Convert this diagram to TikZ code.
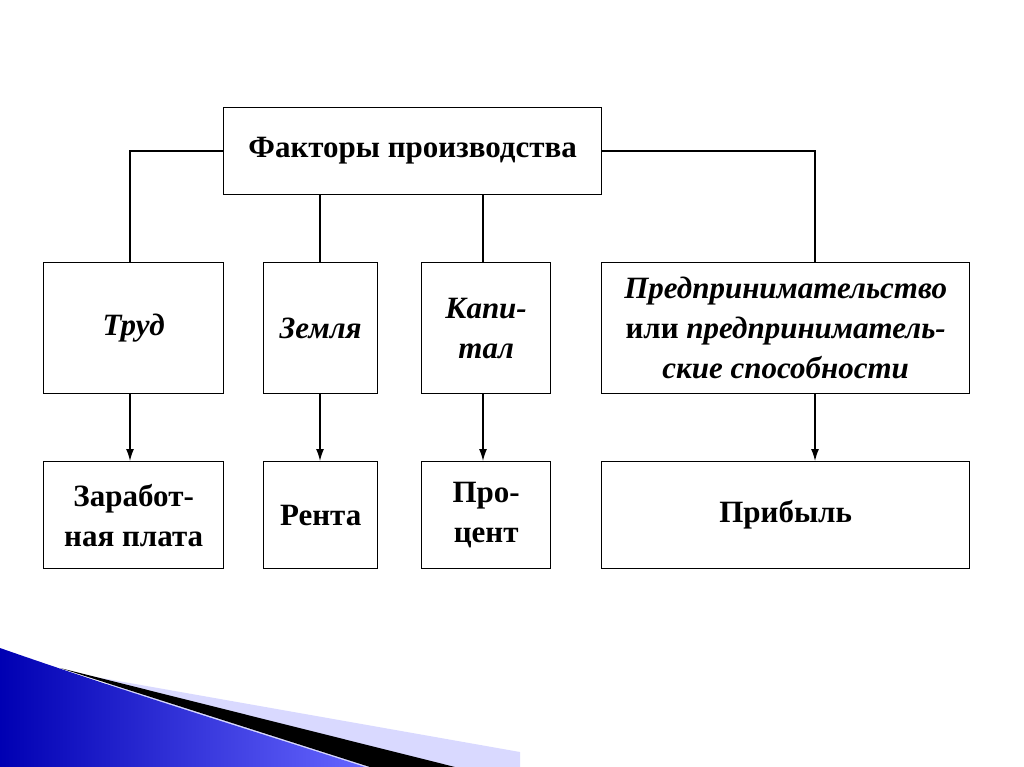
\documentclass[tikz,border=0pt]{standalone}
\usepackage{fontspec}
\setmainfont{Liberation Serif}
\begin{document}
\begin{tikzpicture}[x=1pt,y=-1pt,
 bx/.style={draw,line width=1.3pt,inner sep=0pt,anchor=north west,align=center,font=\fontsize{31}{40}\selectfont\bfseries},
 ln/.style={line width=1.3pt},
 ar/.style={line width=1.3pt,-{Latex[length=12pt,width=8pt]}}]
\usetikzlibrary{arrows.meta}
\useasboundingbox (0,0) rectangle (1024,767);
% decoration
\fill[blue!15] (90,676) -- (520,752) -- (520,767) -- (300,767) -- cycle;
\fill[black] (60,668) -- (455,767) -- (370,767) -- cycle;
\shade[left color=blue!70!black,right color=blue!60] (0,648) .. controls (120,690) and (250,730) .. (365,767) -- (0,767) -- cycle;
% boxes
\node[bx,minimum width=378pt,minimum height=87pt] (top) at (223,107) {Факторы производства};
\node[bx,minimum width=180pt,minimum height=131pt] (a) at (43,262) {\itshape Труд};
\node[bx,minimum width=114pt,minimum height=131pt] (b) at (263,262) {\itshape Земля};
\node[bx,minimum width=129pt,minimum height=131pt] (c) at (421,262) {\itshape Капи-\\\itshape тал};
\node[bx,minimum width=368pt,minimum height=131pt] (d) at (601,262) {\itshape Предпринимательство\\или \itshape предприниматель-\\\itshape ские способности};
\node[bx,minimum width=180pt,minimum height=107pt] (a2) at (43,461) {Заработ-\\ная плата};
\node[bx,minimum width=114pt,minimum height=107pt] (b2) at (263,461) {Рента};
\node[bx,minimum width=129pt,minimum height=107pt] (c2) at (421,461) {Про-\\цент};
\node[bx,minimum width=368pt,minimum height=107pt] (d2) at (601,461) {Прибыль};
% connectors
\draw[ln] (top.west) -| (a.north -| 130,0);
\draw[ln] (top.east) -| (d.north -| 815,0);
\draw[ln] (top.south -| 320,0) -- (b.north -| 320,0);
\draw[ln] (top.south -| 483,0) -- (c.north -| 483,0);
\draw[ar] (a.south -| 130,0) -- (a2.north -| 130,0);
\draw[ar] (b.south -| 320,0) -- (b2.north -| 320,0);
\draw[ar] (c.south -| 483,0) -- (c2.north -| 483,0);
\draw[ar] (d.south -| 815,0) -- (d2.north -| 815,0);
\end{tikzpicture}
\end{document}
